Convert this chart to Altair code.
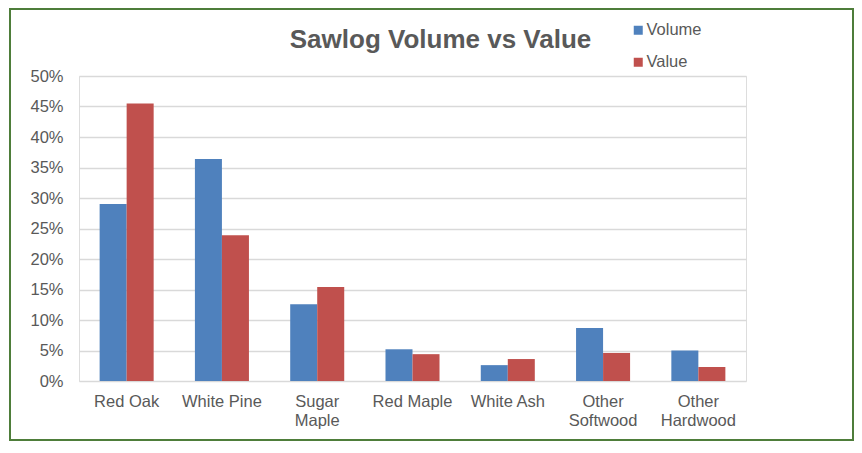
import altair as alt
import pandas as pd

categories = ["Red Oak", "White Pine", "Sugar Maple", "Red Maple", "White Ash", "Other Softwood", "Other Hardwood"]
volume = [29.0, 36.4, 12.6, 5.2, 2.6, 8.7, 5.0]
value = [45.5, 23.9, 15.4, 4.4, 3.6, 4.6, 2.3]
series = ["Volume", "Value"]
colors = ["#4F81BD", "#C0504D"]
y_ticks = [0, 5, 10, 15, 20, 25, 30, 35, 40, 45, 50]

rows = []
for c, v1, v2 in zip(categories, volume, value):
    rows.append({"category": c, "series": "Volume", "pct": v1})
    rows.append({"category": c, "series": "Value", "pct": v2})
df = pd.DataFrame(rows)

FONT = "Liberation Sans"
GREY = "#595959"

bars = alt.Chart(df).mark_bar().encode(
    x=alt.X("category:N", sort=categories, title=None,
            scale=alt.Scale(paddingInner=0.433, paddingOuter=0.2165),
            axis=alt.Axis(labelAngle=0, tickSize=0, ticks=False, domain=False, grid=False,
                          labelPadding=12, labelFontSize=16.5, labelFont=FONT, labelColor=GREY,
                          labelLineHeight=19,
                          labelExpr="indexof(['Sugar Maple','Other Softwood','Other Hardwood'], datum.value) >= 0 ? split(datum.value, ' ') : datum.value")),
    xOffset=alt.XOffset("series:N", sort=series, scale=alt.Scale(paddingInner=0, paddingOuter=0)),
    y=alt.Y("pct:Q", title=None,
            scale=alt.Scale(domain=[0, 50], nice=False),
            axis=alt.Axis(values=y_ticks, labelExpr="datum.value + '%'", tickSize=0, ticks=False,
                          domain=False, grid=True, gridColor="#D9D9D9", gridWidth=1.5,
                          labelPadding=16, labelFontSize=16.5, labelFont=FONT, labelColor=GREY)),
    color=alt.Color("series:N", sort=series,
                    scale=alt.Scale(domain=series, range=colors),
                    legend=alt.Legend(title=None, orient="none", legendX=551, legendY=-54,
                                      direction="vertical", symbolType="square", symbolSize=81,
                                      symbolStrokeWidth=0, labelOffset=0, rowPadding=15,
                                      labelFontSize=16.5, labelFont=FONT, labelColor=GREY,
                                      padding=0)),
)

border = alt.Chart(alt.Data(values=[{}])).mark_rect(
    fill=None, stroke="#4E7D3A", strokeWidth=2
).encode(
    x=alt.value(-69), x2=alt.value(774), y=alt.value(-67), y2=alt.value(364)
)

chart = alt.layer(border, bars).properties(
    width=667, height=305,
    title=alt.TitleParams("Sawlog Volume vs Value", fontSize=26, font=FONT, fontWeight="bold",
                          color=GREY, anchor="middle", dx=28, dy=55, offset=10),
    autosize=alt.AutoSizeParams(type="none"),
    padding={"left": 71, "top": 68, "right": 108, "bottom": 61},
).configure_view(stroke=None).configure(background="white")

chart.save("out.html", embed_options={"renderer": "svg", "actions": False})
